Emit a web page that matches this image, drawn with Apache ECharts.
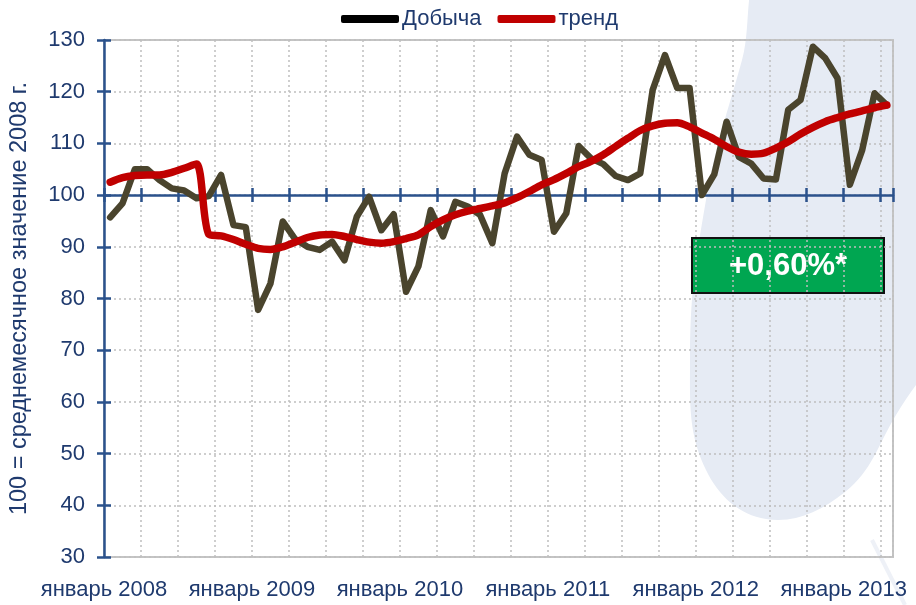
<!DOCTYPE html>
<html>
<head>
<meta charset="utf-8">
<script src="https://cdn.jsdelivr.net/npm/echarts@6/dist/echarts.min.js"></script>
<style>
  html, body { margin: 0; padding: 0; background: #fff; }
  #chart { width: 916px; height: 605px; }
</style>
</head>
<body>
<div id="chart"></div>
<script>
// monthly data, Jan 2008 .. Apr 2013
var yearLabels = ['январь 2008', 'январь 2009', 'январь 2010', 'январь 2011', 'январь 2012', 'январь 2013'];
var dobycha = [
  95.7, 98.4, 105.0, 105.0, 102.9, 101.3, 100.9, 99.4, 99.8, 103.9, 94.2, 93.8,
  77.8, 82.9, 94.9, 91.5, 90.0, 89.4, 91.0, 87.4, 95.8, 99.7, 93.2, 96.3,
  81.3, 86.2, 97.1, 92.0, 98.7, 97.8, 96.2, 90.7, 104.2, 111.3, 107.8, 106.8,
  92.9, 96.5, 109.5, 107.1, 106.0, 103.7, 102.9, 104.2, 120.3, 127.1, 120.7, 120.7,
  100.0, 104.0, 114.2, 107.4, 106.1, 103.2, 103.0, 116.5, 118.4, 128.7, 126.5, 122.6,
  102.0, 108.7, 119.7, 117.4
];
var trend = [
  102.5, 103.4, 103.8, 103.9, 103.9, 104.4, 105.2, 106.0, 92.4, 92.1, 91.4, 90.5,
  89.7, 89.5, 90.0, 90.9, 91.8, 92.3, 92.4, 92.0, 91.4, 90.9, 90.7, 91.0,
  91.6, 92.3, 93.9, 95.2, 96.2, 96.9, 97.4, 97.9, 98.5, 99.5, 100.7, 102.0,
  103.0, 104.2, 105.5, 106.5, 107.8, 109.4, 111.0, 112.5, 113.4, 113.9, 114.0, 113.2,
  112.0, 110.8, 109.4, 108.3, 107.9, 108.1, 109.1, 110.3, 111.8, 113.1, 114.2, 115.0,
  115.7, 116.3, 116.9, 117.4
];
var yMin = 30, yMax = 130, yBase = 100;
var badgeText = '+0,60%*';

var FONT = "'Liberation Sans Narrow', 'Arial Narrow', 'Liberation Sans', sans-serif";
var NAVY = '#1F3A6E';
var AXIS = '#2B528C';

// x = month index, centred in its month; y shifted so that 100 sits on zero
function toPoints(arr) {
  return arr.map(function (v, i) { return [i + 0.5, v - yBase]; });
}

var nMonths = dobycha.length;

function xAxisBase() {
  return {
    type: 'value', position: 'bottom', min: 0, max: nMonths, interval: 3,
    axisLabel: { show: false }, splitLine: { show: false }
  };
}
var xBottom = xAxisBase();
xBottom.axisLine = { show: false, onZero: false };
xBottom.axisTick = { show: false };
xBottom.splitLine = { show: true, lineStyle: { color: '#BFBFBF', type: [2, 3], width: 1.5 } };
xBottom.axisLabel = {
  show: true, margin: 22, fontSize: 22, fontFamily: FONT, color: NAVY,
  formatter: function (v) {
    if (v % 12 !== 0) return '';
    return yearLabels[v / 12] || '';
  }
};
var xBaseOut = xAxisBase();
xBaseOut.axisLine = { show: true, onZero: true, lineStyle: { color: AXIS, width: 2.5 } };
xBaseOut.axisTick = { show: true, inside: false, length: 7, lineStyle: { color: AXIS, width: 2.5 } };
var xBaseIn = xAxisBase();
xBaseIn.axisLine = { show: false, onZero: true };
xBaseIn.axisTick = { show: true, inside: true, length: 7, lineStyle: { color: AXIS, width: 2.5 } };

var myChart = echarts.init(document.getElementById('chart'));
var option = {
  animation: false,
  backgroundColor: '#fff',
  graphic: [
    {
      type: 'polygon', z: -10, silent: true,
      shape: {
        smooth: 0.4,
        points: [[772, -40], [742, 60], [706, 200], [690, 360], [706, 470], [766, 519],
                 [845, 492], [896, 415], [960, 300], [990, -40]]
      },
      style: { fill: '#E6EBF4' }
    },
    {
      type: 'line', z: -10, silent: true,
      shape: { x1: 872, y1: 540, x2: 905, y2: 605 },
      style: { stroke: '#EEF1F7', lineWidth: 4 }
    },
    {
      type: 'group', z: 100, left: 691, top: 237,
      children: [
        { type: 'rect', shape: { x: 0, y: 0, width: 192, height: 55 },
          style: { fill: '#00A651', stroke: '#111', lineWidth: 2 } },
        { type: 'text', x: 96, y: 28,
          style: { text: badgeText, fill: '#fff', font: 'bold 31px ' + FONT, align: 'center', verticalAlign: 'middle' } }
      ]
    }
  ],
  legend: {
    left: 336, top: 3,
    itemWidth: 58, itemHeight: 8, itemGap: 16,
    icon: 'roundRect',
    textStyle: { fontSize: 22, fontFamily: FONT, color: NAVY, padding: [0, 0, 0, -2] },
    data: [
      { name: 'Добыча', itemStyle: { color: '#000' } },
      { name: 'тренд', itemStyle: { color: '#C00000' } }
    ]
  },
  grid: {
    left: 104, right: 23, top: 40, bottom: 48,
    show: true, borderColor: '#C4C4C4', borderWidth: 2,
    outerBoundsMode: 'none'
  },
  xAxis: [xBottom, xBaseOut, xBaseIn],
  yAxis: [
    {
      type: 'value', position: 'left', min: yMin - yBase, max: yMax - yBase, interval: 10,
      name: '100 = среднемесячное значение 2008 г.',
      nameLocation: 'middle', nameRotate: 90, nameGap: 72,
      nameTextStyle: { fontSize: 23.5, fontFamily: FONT, color: NAVY },
      axisLine: { show: true, onZero: false, lineStyle: { color: AXIS, width: 2.5 } },
      axisTick: { show: true, inside: false, length: 7, lineStyle: { color: AXIS, width: 2.5 } },
      axisLabel: {
        margin: 19, fontSize: 22, fontFamily: FONT, color: NAVY,
        formatter: function (v) { return String(v + yBase); }
      },
      splitLine: { show: true, lineStyle: { color: '#BFBFBF', type: [2, 3], width: 1.5 } }
    },
    {
      type: 'value', position: 'left', min: yMin - yBase, max: yMax - yBase, interval: 10,
      axisLine: { show: false, onZero: false },
      axisTick: { show: true, inside: true, length: 7, lineStyle: { color: AXIS, width: 2.5 } },
      axisLabel: { show: false },
      splitLine: { show: false }
    }
  ],
  series: [
    {
      name: 'Добыча', type: 'line', data: toPoints(dobycha),
      showSymbol: false, symbol: 'none',
      lineStyle: { color: '#4A442D', width: 6.5, join: 'round', cap: 'round' },
      itemStyle: { color: '#4A442D' }, z: 3
    },
    {
      name: 'тренд', type: 'line', data: toPoints(trend),
      showSymbol: false, symbol: 'none', smooth: 0.3,
      lineStyle: { color: '#C00000', width: 7.5, cap: 'round' },
      itemStyle: { color: '#C00000' }, z: 4
    }
  ]
};
myChart.setOption(option);
</script>
</body>
</html>
